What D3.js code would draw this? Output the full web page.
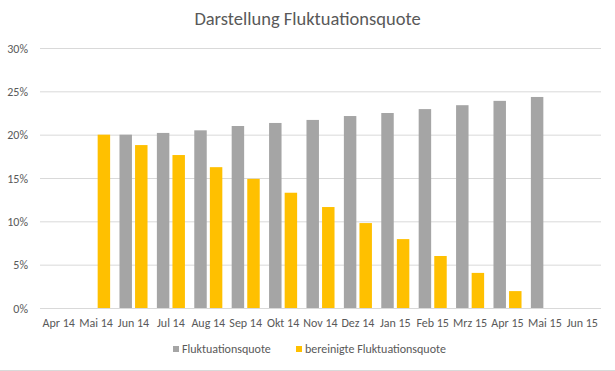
<!DOCTYPE html>
<html>
<head>
    <meta charset="utf-8">
    <style>
        body { margin: 0; background: white; }
        svg { display: block; font-family: Carlito, Calibri, 'Open Sans', sans-serif; }
    </style>
</head>
<body>
    <svg width="615" height="371"></svg>

<script src="https://d3js.org/d3.v7.min.js"></script>
<script>
    // months on the x axis
    let months = ["Apr 14", "Mai 14", "Jun 14", "Jul 14", "Aug 14", "Sep 14", "Okt 14",
                  "Nov 14", "Dez 14", "Jan 15", "Feb 15", "Mrz 15", "Apr 15", "Mai 15", "Jun 15"];
    let seriesNames = ["Fluktuationsquote", "bereinigte Fluktuationsquote"];
    // values in percent, null = no bar
    let fluktuation = [null, null, 20.0, 20.2, 20.5, 21.0, 21.35, 21.7, 22.15, 22.5, 22.95, 23.4, 23.9, 24.35, null];
    let bereinigt = [null, 20.0, 18.8, 17.65, 16.25, 14.9, 13.3, 11.65, 9.8, 7.95, 6.0, 4.05, 1.95, null, null];
    let yTicks = [0, 5, 10, 15, 20, 25, 30];
    let colors = ["#a5a5a5", "#ffc000"];

    let svg = d3.select("svg");
    let plotLeft = 40, plotRight = 601, plotTop = 48, plotBottom = 308;

    let x0 = d3.scaleBand()
        .domain(months)
        .range([plotLeft, plotRight])
        .paddingInner(0.25)
        .paddingOuter(0.125);

    let x1 = d3.scaleBand()
        .domain(seriesNames)
        .range([0, x0.bandwidth()])
        .paddingInner(0.2);

    let y = d3.scaleLinear()
        .domain([0, 30])
        .range([plotBottom, plotTop]);

    // outer chart border at bottom
    svg.append("line")
        .attr("x1", 0).attr("x2", 615)
        .attr("y1", 370.5).attr("y2", 370.5)
        .style("stroke", "#d9d9d9");

    // title
    svg.append("text")
        .text("Darstellung Fluktuationsquote")
        .attr("x", 307.5)
        .attr("y", 25)
        .attr("text-anchor", "middle")
        .style("font-size", "18.5px")
        .style("fill", "#595959");

    // gridlines
    svg.append("g")
        .attr("transform", `translate(${plotLeft},0)`)
        .call(d3.axisLeft(y).tickValues(yTicks).tickSize(-(plotRight - plotLeft)).tickFormat(d => d + "%"))
        .call(g => g.select(".domain").remove())
        .call(g => g.selectAll("line").style("stroke", "#d9d9d9"))
        .call(g => g.selectAll("text")
            .attr("x", -12)
            .attr("dy", "0.35em")
            .style("font-size", "12px")
            .style("fill", "#595959")
            .style("font-family", "Carlito, Calibri, 'Open Sans', sans-serif"));

    // bars
    let rows = months.map((m, i) => ({ month: m, values: [fluktuation[i], bereinigt[i]] }));

    svg.append("g")
        .selectAll("g")
        .data(rows)
        .join("g")
        .attr("transform", d => `translate(${x0(d.month)},0)`)
        .selectAll("rect")
        .data(d => d.values.map((v, j) => ({ name: seriesNames[j], value: v, j: j })).filter(d => d.value != null))
        .join("rect")
        .attr("x", d => x1(d.name))
        .attr("width", x1.bandwidth())
        .attr("y", d => y(d.value))
        .attr("height", d => y(0) - y(d.value))
        .style("fill", d => colors[d.j]);

    // x axis
    svg.append("g")
        .attr("transform", `translate(0,${plotBottom})`)
        .call(d3.axisBottom(x0).tickSize(0))
        .call(g => g.select(".domain").remove())
        .call(g => g.selectAll("text")
            .attr("y", 10)
            .style("font-size", "12px")
            .style("fill", "#595959")
            .style("font-family", "Carlito, Calibri, 'Open Sans', sans-serif"));

    // legend
    let legendX = [173, 296];
    seriesNames.forEach((name, i) => {
        svg.append("rect")
            .attr("x", legendX[i])
            .attr("y", 346)
            .attr("width", 6)
            .attr("height", 6)
            .style("fill", colors[i]);
        svg.append("text")
            .text(name)
            .attr("x", legendX[i] + 9)
            .attr("y", 353)
            .style("font-size", "12px")
            .style("fill", "#595959");
    });
</script>
</body>
</html>
